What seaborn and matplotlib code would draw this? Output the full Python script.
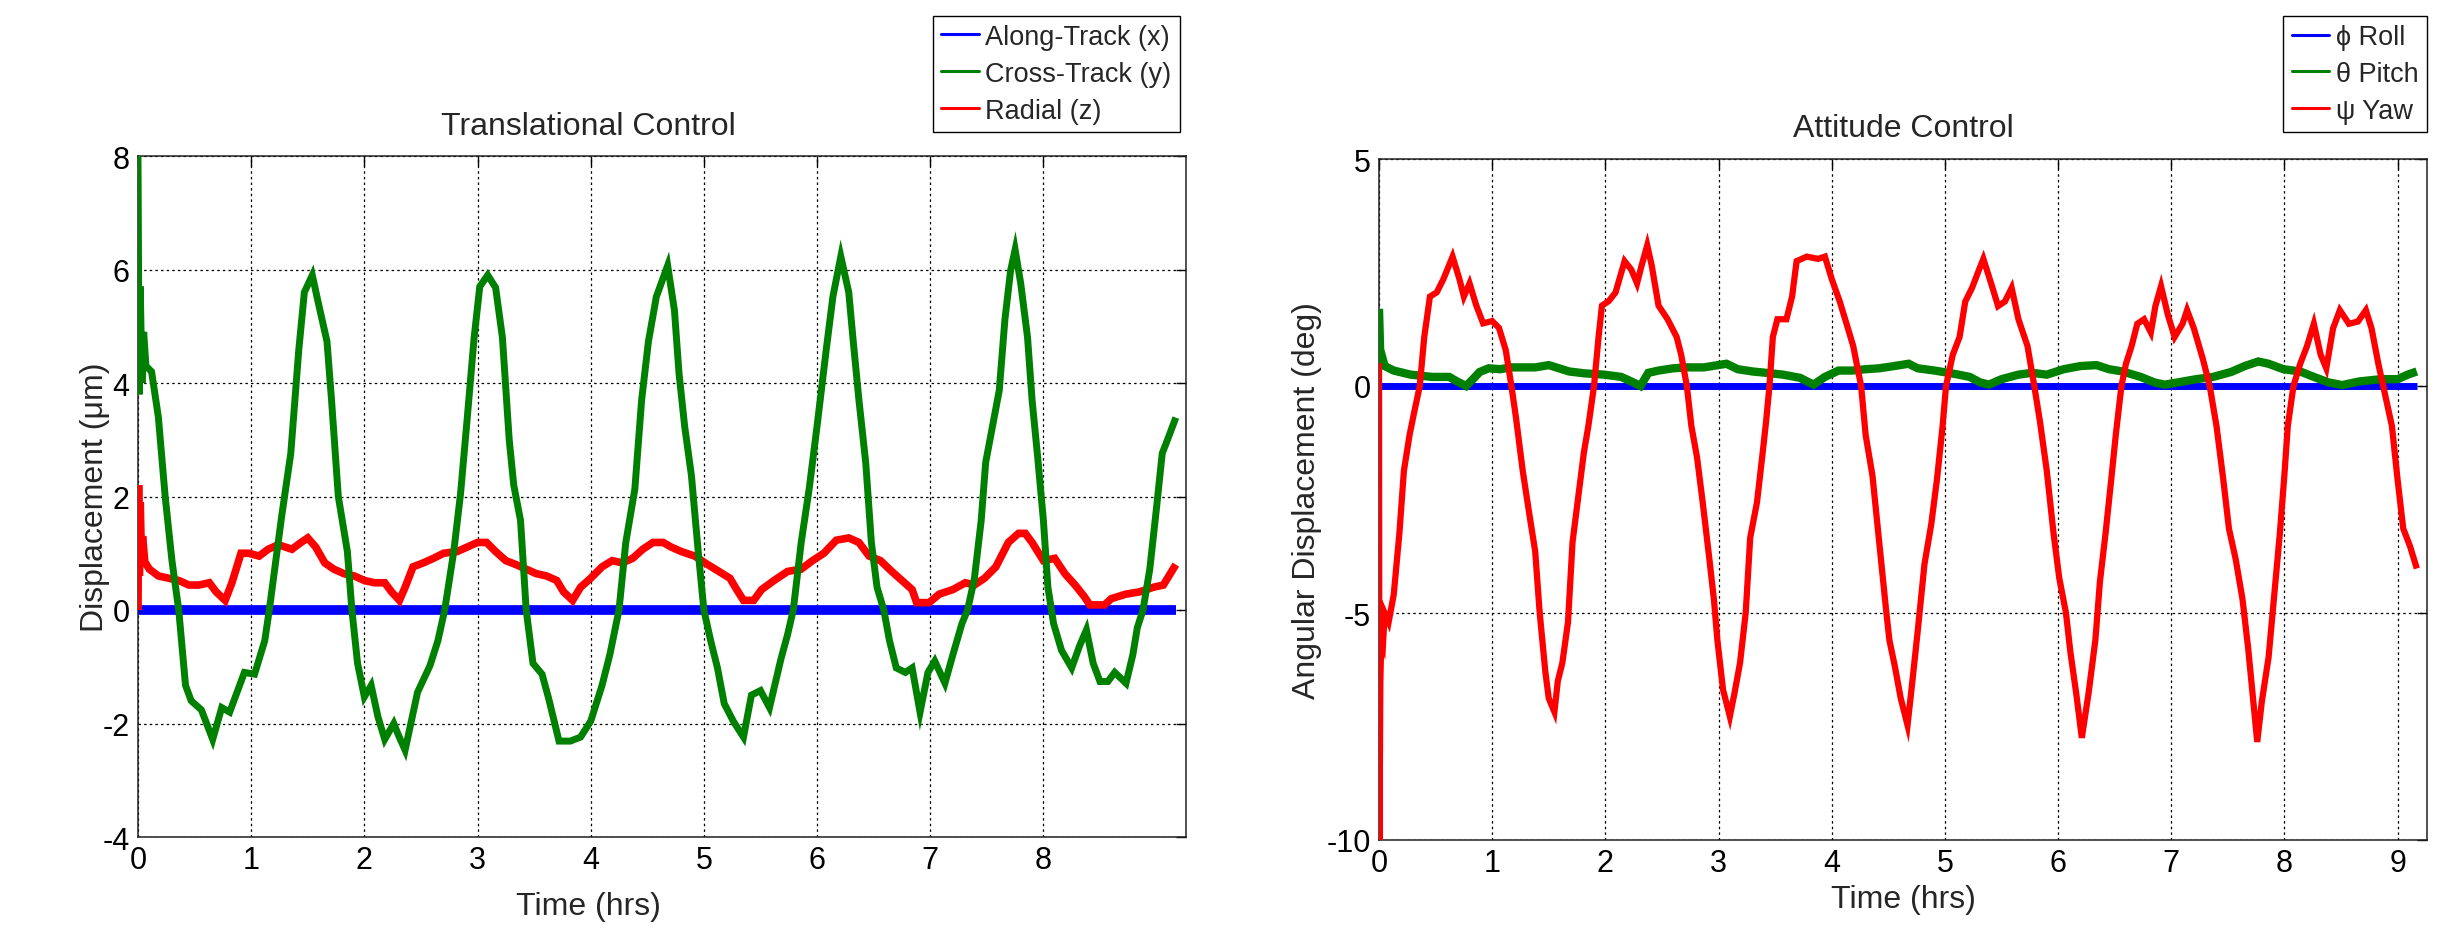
import pandas as pd
import matplotlib
matplotlib.use('Agg')
import matplotlib.pyplot as plt
from matplotlib.lines import Line2D
import seaborn as sns

# --- data (time in hrs) ---

# Translational control
t_along = [0.0, 9.17]
along = [0.0, 0.0]

t_cross = [0, 0.01, 0.02, 0.035, 0.05, 0.07, 0.12, 0.18, 0.24, 0.30, 0.36, 0.42, 0.47, 0.56, 0.66, 0.74,
           0.81, 0.94, 1.03, 1.12, 1.16, 1.27, 1.35, 1.42, 1.47, 1.54, 1.59, 1.67, 1.71, 1.77, 1.85, 1.89,
           1.94, 2.0, 2.06, 2.12, 2.18, 2.26, 2.30, 2.36, 2.47, 2.58, 2.65, 2.71, 2.79, 2.85, 2.91, 2.97,
           3.02, 3.09, 3.16, 3.22, 3.28, 3.32, 3.38, 3.43, 3.49, 3.57, 3.63, 3.72, 3.82, 3.91, 4.0, 4.10,
           4.17, 4.25, 4.31, 4.39, 4.45, 4.51, 4.58, 4.68, 4.74, 4.78, 4.83, 4.89, 4.95, 5.0, 5.06, 5.12,
           5.18, 5.26, 5.35, 5.42, 5.50, 5.58, 5.68, 5.74, 5.79, 5.86, 5.93, 6.0, 6.08, 6.14, 6.21, 6.28,
           6.32, 6.37, 6.43, 6.48, 6.53, 6.59, 6.64, 6.70, 6.78, 6.84, 6.91, 6.98, 7.04, 7.13, 7.20, 7.28,
           7.33, 7.39, 7.45, 7.49, 7.55, 7.61, 7.66, 7.71, 7.75, 7.80, 7.86, 7.90, 7.95, 8.0, 8.04, 8.09,
           8.16, 8.25, 8.32, 8.38, 8.44, 8.50, 8.57, 8.63, 8.73, 8.79, 8.83, 8.88, 8.94, 9.0, 9.05, 9.11, 9.17]
cross = [8.0, 3.8, 5.7, 4.0, 4.9, 4.3, 4.2, 3.4, 2.0, 0.87, 0.0, -1.33, -1.6, -1.76, -2.28, -1.72,
         -1.8, -1.1, -1.13, -0.54, 0.0, 1.66, 2.76, 4.57, 5.6, 5.9, 5.44, 4.73, 3.7, 2.0, 1.03, 0.0,
         -0.94, -1.53, -1.33, -1.88, -2.28, -2.0, -2.2, -2.47, -1.45, -0.98, -0.54, 0.0, 1.03, 2.05, 3.4, 4.8,
         5.7, 5.9, 5.68, 4.8, 3.0, 2.2, 1.58, 0.0, -0.94, -1.13, -1.57, -2.31, -2.31, -2.24, -1.96, -1.33,
         -0.78, 0.0, 1.19, 2.13, 3.7, 4.73, 5.52, 6.07, 5.28, 4.18, 3.24, 2.37, 1.03, 0.0, -0.54, -1.02,
         -1.65, -1.96, -2.24, -1.5, -1.42, -1.72, -0.87, -0.43, 0.0, 1.19, 2.13, 3.24, 4.57, 5.52, 6.23, 5.6,
         4.73, 3.7, 2.6, 1.19, 0.4, 0.0, -0.54, -1.02, -1.1, -1.02, -1.8, -1.1, -0.9, -1.29, -0.79, -0.24,
         0.0, 0.55, 1.57, 2.6, 3.24, 3.87, 5.12, 5.98, 6.35, 5.75, 4.8, 3.7, 2.68, 1.58, 0.4, -0.24,
         -0.71, -1.02, -0.63, -0.35, -0.94, -1.26, -1.26, -1.1, -1.29, -0.79, -0.31, 0.0, 0.72, 1.81, 2.76, 3.07, 3.39]

t_radial = [0, 0.005, 0.012, 0.02, 0.03, 0.04, 0.06, 0.1, 0.18, 0.27, 0.36, 0.45, 0.54, 0.63, 0.69, 0.77,
            0.83, 0.91, 0.98, 1.07, 1.15, 1.24, 1.36, 1.44, 1.50, 1.57, 1.65, 1.73, 1.82, 1.91, 2.0, 2.09,
            2.18, 2.24, 2.31, 2.36, 2.43, 2.52, 2.61, 2.70, 2.82, 2.91, 3.0, 3.08, 3.16, 3.25, 3.34, 3.43,
            3.52, 3.61, 3.70, 3.76, 3.84, 3.91, 4.0, 4.10, 4.19, 4.28, 4.37, 4.46, 4.55, 4.64, 4.71, 4.80,
            4.92, 5.01, 5.10, 5.23, 5.29, 5.35, 5.44, 5.51, 5.62, 5.74, 5.86, 5.96, 6.06, 6.17, 6.28, 6.37,
            6.46, 6.56, 6.66, 6.75, 6.84, 6.88, 6.99, 7.08, 7.20, 7.31, 7.39, 7.48, 7.58, 7.69, 7.78, 7.84,
            7.90, 8.0, 8.10, 8.19, 8.28, 8.36, 8.41, 8.54, 8.60, 8.73, 8.85, 8.97, 9.06, 9.17]
radial = [0.0, 2.2, 0.6, 1.9, 0.9, 1.3, 0.85, 0.72, 0.6, 0.56, 0.52, 0.44, 0.44, 0.48, 0.32, 0.17,
          0.48, 1.0, 1.0, 0.95, 1.07, 1.15, 1.07, 1.19, 1.27, 1.11, 0.83, 0.72, 0.64, 0.6, 0.52, 0.48,
          0.48, 0.32, 0.17, 0.4, 0.76, 0.83, 0.91, 1.0, 1.03, 1.11, 1.19, 1.19, 1.03, 0.87, 0.8, 0.72,
          0.64, 0.6, 0.52, 0.32, 0.17, 0.4, 0.56, 0.76, 0.87, 0.83, 0.91, 1.07, 1.19, 1.19, 1.11, 1.03,
          0.95, 0.83, 0.72, 0.56, 0.36, 0.17, 0.17, 0.36, 0.52, 0.68, 0.72, 0.87, 1.0, 1.23, 1.27, 1.19,
          0.95, 0.87, 0.68, 0.52, 0.36, 0.13, 0.13, 0.28, 0.36, 0.48, 0.44, 0.56, 0.76, 1.19, 1.35, 1.35,
          1.19, 0.87, 0.91, 0.64, 0.44, 0.24, 0.09, 0.09, 0.2, 0.28, 0.32, 0.4, 0.44, 0.8]

# Attitude control
t_roll = [0.0, 9.17]
roll = [0.0, 0.0]

t_pitch = [0, 0.01, 0.05, 0.13, 0.28, 0.47, 0.62, 0.69, 0.77, 0.83, 0.89, 0.97, 1.07, 1.17, 1.29, 1.38,
           1.50, 1.59, 1.68, 1.81, 1.99, 2.14, 2.23, 2.31, 2.38, 2.47, 2.60, 2.72, 2.87, 3.07, 3.17, 3.30,
           3.42, 3.57, 3.72, 3.84, 3.94, 4.06, 4.18, 4.30, 4.42, 4.58, 4.68, 4.76, 4.91, 5.10, 5.22, 5.31,
           5.39, 5.50, 5.65, 5.77, 5.90, 6.05, 6.20, 6.34, 6.45, 6.57, 6.73, 6.85, 6.94, 7.06, 7.22, 7.37,
           7.53, 7.65, 7.77, 7.86, 7.99, 8.14, 8.26, 8.39, 8.51, 8.66, 8.85, 9.0, 9.09, 9.17]
pitch = [1.7, 0.8, 0.44, 0.34, 0.25, 0.2, 0.2, 0.1, 0.0, 0.15, 0.31, 0.39, 0.37, 0.41, 0.41, 0.41,
         0.46, 0.39, 0.32, 0.28, 0.25, 0.2, 0.1, 0.0, 0.29, 0.34, 0.39, 0.41, 0.41, 0.49, 0.37, 0.32,
         0.29, 0.25, 0.18, 0.03, 0.2, 0.34, 0.34, 0.37, 0.39, 0.45, 0.49, 0.39, 0.34, 0.26, 0.2, 0.08,
         0.03, 0.15, 0.25, 0.29, 0.25, 0.37, 0.44, 0.46, 0.37, 0.32, 0.2, 0.08, 0.03, 0.08, 0.15, 0.2,
         0.31, 0.44, 0.54, 0.49, 0.37, 0.32, 0.2, 0.08, 0.02, 0.1, 0.15, 0.15, 0.25, 0.32]

t_yaw = [0, 0.004, 0.012, 0.02, 0.035, 0.05, 0.085, 0.13, 0.18, 0.22, 0.27, 0.31, 0.36, 0.40, 0.45, 0.51,
         0.57, 0.65, 0.71, 0.75, 0.80, 0.86, 0.92, 1.0, 1.06, 1.12, 1.17, 1.21, 1.27, 1.33, 1.38, 1.42,
         1.47, 1.50, 1.55, 1.58, 1.62, 1.67, 1.71, 1.76, 1.81, 1.85, 1.90, 1.94, 1.97, 2.03, 2.09, 2.17,
         2.23, 2.28, 2.32, 2.37, 2.41, 2.47, 2.55, 2.63, 2.67, 2.72, 2.76, 2.81, 2.86, 2.92, 2.96, 2.99,
         3.04, 3.10, 3.14, 3.19, 3.24, 3.28, 3.34, 3.39, 3.42, 3.45, 3.48, 3.52, 3.60, 3.65, 3.69, 3.78,
         3.88, 3.94, 4.0, 4.07, 4.13, 4.19, 4.26, 4.30, 4.36, 4.42, 4.48, 4.51, 4.56, 4.61, 4.67, 4.71,
         4.76, 4.82, 4.88, 4.93, 4.98, 5.01, 5.07, 5.13, 5.18, 5.24, 5.30, 5.34, 5.41, 5.47, 5.53, 5.59,
         5.65, 5.73, 5.79, 5.84, 5.90, 5.96, 6.01, 6.07, 6.11, 6.16, 6.21, 6.27, 6.33, 6.37, 6.42, 6.47,
         6.51, 6.56, 6.60, 6.65, 6.70, 6.76, 6.82, 6.86, 6.91, 6.97, 7.03, 7.10, 7.14, 7.20, 7.28, 7.34,
         7.40, 7.46, 7.51, 7.57, 7.63, 7.68, 7.73, 7.76, 7.80, 7.86, 7.91, 7.96, 8.0, 8.03, 8.08, 8.14,
         8.20, 8.26, 8.32, 8.37, 8.43, 8.49, 8.57, 8.65, 8.72, 8.77, 8.83, 8.89, 8.95, 9.0, 9.05, 9.11, 9.17]
yaw = [0.5, -10.0, -6.5, -5.6, -5.7, -5.0, -5.2, -4.6, -3.25, -1.87, -1.08, -0.59, 0.0, 1.08, 1.97, 2.06,
       2.36, 2.85, 2.36, 1.97, 2.26, 1.77, 1.38, 1.43, 1.28, 0.79, 0.0, -0.69, -1.87, -2.85, -3.64, -5.0,
       -6.3, -6.88, -7.18, -6.5, -6.1, -5.2, -3.44, -2.46, -1.47, -0.88, 0.0, 1.08, 1.77, 1.87, 2.06, 2.75,
       2.56, 2.26, 2.65, 3.1, 2.65, 1.77, 1.47, 1.08, 0.69, 0.0, -0.88, -1.57, -2.56, -3.83, -4.72, -5.6,
       -6.69, -7.28, -6.78, -6.1, -5.0, -3.34, -2.56, -1.47, -0.79, 0.0, 1.08, 1.47, 1.47, 1.97, 2.75, 2.85,
       2.8, 2.85, 2.36, 1.87, 1.38, 0.88, 0.0, -1.08, -1.97, -3.44, -4.92, -5.6, -6.2, -6.88, -7.47, -6.57,
       -5.4, -3.92, -3.04, -2.06, -0.88, 0.0, 0.69, 1.08, 1.86, 2.16, 2.55, 2.8, 2.25, 1.76, 1.86, 2.16,
       1.47, 0.88, 0.0, -0.78, -1.86, -3.24, -4.22, -5.0, -5.88, -6.76, -7.75, -6.76, -5.59, -4.31, -3.24, -2.06,
       -1.08, 0.0, 0.49, 0.88, 1.37, 1.47, 1.18, 1.76, 2.2, 1.57, 1.08, 1.37, 1.67, 1.27, 0.59, 0.0,
       -0.88, -2.06, -3.14, -3.82, -4.7, -5.78, -7.06, -7.84, -6.96, -5.98, -4.6, -3.24, -1.96, -0.88, 0.0, 0.49,
       0.88, 1.37, 0.69, 0.39, 1.27, 1.67, 1.37, 1.42, 1.67, 1.27, 0.49, -0.2, -0.88, -2.06, -3.14, -3.53, -4.02]

trans_labels = ['Along-Track (x)', 'Cross-Track (y)', 'Radial (z)']
att_labels = ['\u03d5 Roll', '\u03b8 Pitch', '\u03c8 Yaw']

# --- style ---
sns.set_style('white')
plt.rcParams['font.family'] = ['Liberation Sans', 'DejaVu Sans']
plt.rcParams['axes.unicode_minus'] = False

BLUE, GREEN, RED = '#0000ff', '#008000', '#ff0000'

fig = plt.figure(figsize=(24.61, 9.29), dpi=100)
W, H = 2461, 929
ax1 = fig.add_axes([138 / W, 1 - 838 / H, 1048 / W, 681 / H])
ax2 = fig.add_axes([1379 / W, 1 - 841 / H, 1048 / W, 681 / H])


def draw(ax, t, v, color, lw, z):
    df = pd.DataFrame({'t': t, 'v': v})
    sns.lineplot(data=df, x='t', y='v', ax=ax, color=color, linewidth=lw,
                 estimator=None, sort=False, legend=False, zorder=z,
                 solid_capstyle='butt', solid_joinstyle='miter')


def style_axes(ax, xticks, yticks, ylim):
    ax.set_xlim(0, 9.26)
    ax.set_ylim(*ylim)
    ax.set_xticks(xticks)
    ax.set_yticks(yticks)
    ax.grid(True, color='black', linestyle=(0, (2, 2.5)), linewidth=0.9)
    ax.set_axisbelow(True)
    ax.tick_params(direction='in', length=7, width=1, top=True, right=True,
                   labelsize=22, pad=6, colors='black')
    for s in ax.spines.values():
        s.set_visible(True)
        s.set_color('#202020')
        s.set_linewidth(1.1)


# Translational control
draw(ax1, t_along, along, BLUE, 7.0, 2)
draw(ax1, t_radial, radial, RED, 5.5, 3)
draw(ax1, t_cross, cross, GREEN, 5.0, 4)
style_axes(ax1, range(0, 9), range(-4, 9, 2), (-4, 8))
ax1.set_title('Translational Control', fontsize=23, x=0.43, pad=16)
ax1.set_xlabel('Time (hrs)', fontsize=23)
ax1.set_ylabel('Displacement (\u03bcm)', fontsize=23)
ax1.xaxis.set_label_coords(0.43, -0.08)
ax1.yaxis.set_label_coords(-0.027, 0.5)

# Attitude control
draw(ax2, t_roll, roll, BLUE, 5.0, 2)
draw(ax2, t_pitch, pitch, GREEN, 6.0, 3)
draw(ax2, t_yaw, yaw, RED, 4.5, 4)
style_axes(ax2, range(0, 10), [-10, -5, 0, 5], (-10, 5))
ax2.set_title('Attitude Control', fontsize=23, pad=16.5)
ax2.set_xlabel('Time (hrs)', fontsize=23)
ax2.set_ylabel('Angular Displacement (deg)', fontsize=23)
ax2.xaxis.set_label_coords(0.5, -0.065)
ax2.yaxis.set_label_coords(-0.054, 0.5)

for ax, labels, anchor in [(ax1, trans_labels, (0.994, 1.206)), (ax2, att_labels, (1.0, 1.21))]:
    handles = [Line2D([], [], color=c, lw=2.2) for c in (BLUE, GREEN, RED)]
    leg = ax.legend(handles, labels, loc='upper right', bbox_to_anchor=anchor,
                    borderaxespad=0, fontsize=19.5, handlelength=1.4, handletextpad=0.25,
                    borderpad=0.3, labelspacing=0.4, fancybox=False, framealpha=1,
                    edgecolor='black')
    leg.get_frame().set_linewidth(1.0)

fig.savefig('out.png', dpi=100, facecolor='white')
